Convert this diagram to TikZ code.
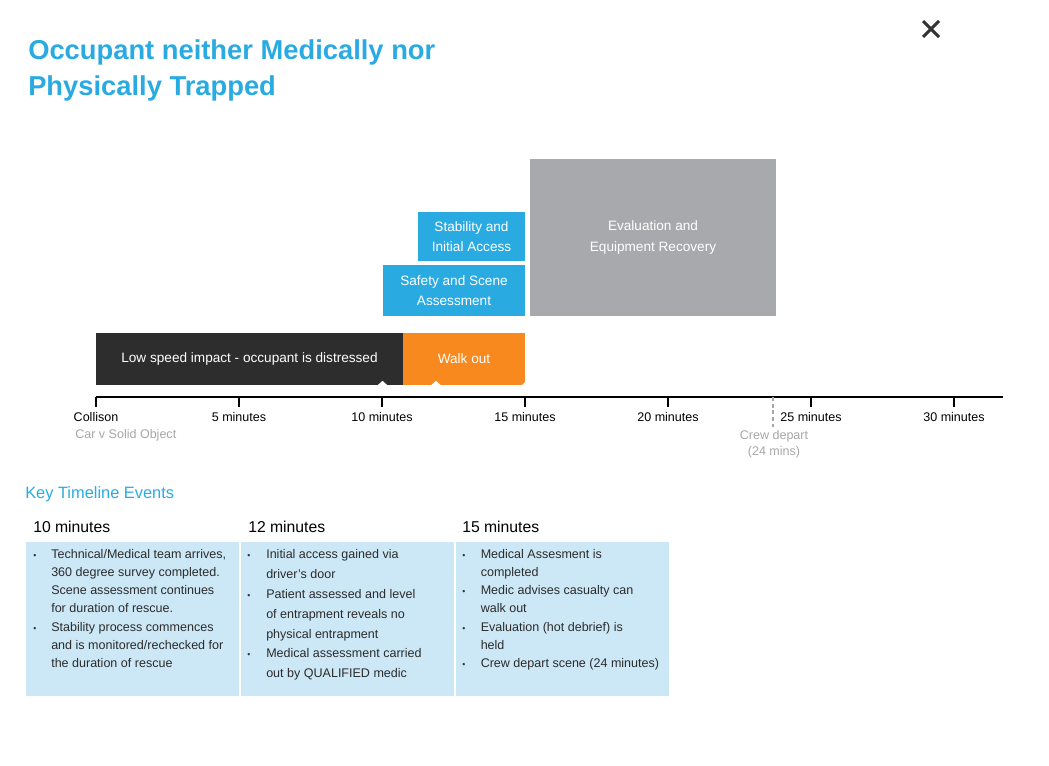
\documentclass[tikz,border=0pt]{standalone}
\usepackage{fontspec}
\setmainfont{Liberation Sans}
\usetikzlibrary{positioning}

\definecolor{titleblue}{HTML}{29ABE2}
\definecolor{phaseblue}{HTML}{29ABE2}
\definecolor{evalgrey}{HTML}{A7A9AC}
\definecolor{impactdark}{HTML}{2D2D2D}
\definecolor{walkorange}{HTML}{F7891F}
\definecolor{noteblue}{HTML}{CCE8F6}
\definecolor{softgrey}{HTML}{A6A6A6}
\definecolor{inkgrey}{HTML}{333333}

\begin{document}
\begin{tikzpicture}[
    x=0.75pt, y=-0.75pt,
    phase/.style={rectangle, inner sep=0pt, align=center, text=white, font=\fontsize{10.2}{15.5}\selectfont},
    tlabel/.style={anchor=base, inner sep=0pt, font=\fontsize{9.4}{12}\selectfont},
    notebox/.style={rectangle, fill=noteblue, inner sep=0pt, minimum width=159.75pt, minimum height=115.5pt},
    notehead/.style={anchor=base west, inner sep=0pt, font=\fontsize{11.8}{14}\selectfont},
    notetext/.style={anchor=north west, inner sep=0pt, align=left, text=inkgrey!85!black, font=\fontsize{9.4}{13.5}\selectfont},
    bul/.style={inner sep=0pt, text=inkgrey, font=\fontsize{6.5}{7}\selectfont}
]
\useasboundingbox (0,0) rectangle (1049,765);

% heading
\node[anchor=base west, inner sep=0pt, text=titleblue, font=\fontsize{20.5}{27}\selectfont\bfseries] (title1) at (28,59) {Occupant neither Medically nor};
\node[anchor=base west, inner sep=0pt, text=titleblue, font=\fontsize{20.5}{27}\selectfont\bfseries] (title2) at (28,95) {Physically Trapped};
\draw[line width=2.2pt, draw=inkgrey] (923,21) -- (939,37) (923,37) -- (939,21);

% phases
\node[phase, fill=evalgrey, minimum width=184.5pt, minimum height=117.75pt] (evalbox) at (653,237.5) {Evaluation and\\Equipment Recovery};
\node[phase, fill=phaseblue, minimum width=80.25pt, minimum height=36.75pt] (stabbox) at (471.5,236.5) {Stability and\\Initial Access};
\node[phase, fill=phaseblue, minimum width=106.5pt, minimum height=38.25pt] (safebox) at (454,290.5) {Safety and Scene\\Assessment};
\node[phase, fill=impactdark, minimum width=230.25pt, minimum height=39pt] (impact) at (249.5,359) {Low speed impact - occupant is distressed};
\node[phase, fill=walkorange, minimum width=91.5pt, minimum height=39pt] (walkout) at (464,359) {Walk out};
\fill[white] (377.5,385.3) -- (382.5,380.8) -- (387.5,385.3) -- cycle;
\fill[white] (431,385.3) -- (436,380.8) -- (441,385.3) -- cycle;
\fill[white] (walkout.south east) -- ++(-3.5,0) -- ++(3.5,-3.5) -- cycle;

% time axis
\coordinate (axisstart) at (96,397);
\coordinate (axisend) at (1003,397);
\draw[line width=1.1pt] (axisstart) -- (axisend);
\foreach \m/\txt in {0/Collison, 1/5 minutes, 2/10 minutes, 3/15 minutes, 4/20 minutes, 5/25 minutes, 6/30 minutes} {
    \draw[line width=0.9pt] (96+143*\m,397) -- (96+143*\m,407);
    \node[tlabel] (tick\m) at (96+143*\m,421.5) {\txt};
}
\node[tlabel, anchor=base west, text=softgrey] (cause) at (75,438.5) {Car v Solid Object};

\coordinate (depart) at (773,397);
\coordinate (departend) at (773,427);
\draw[softgrey, line width=0.8pt, dash pattern=on 3pt off 2pt] (depart) -- (departend);
\node[tlabel, text=softgrey] (departlbl) at (774,439.5) {Crew depart};
\node[tlabel, text=softgrey] (departmins) at (774,455.5) {(24 mins)};

% key events
\node[anchor=base west, inner sep=0pt, text=titleblue, font=\fontsize{12.3}{15}\selectfont] (keyhead) at (25,498) {Key Timeline Events};

\node[notebox] (note10) at (132.5,619) {};
\node[notebox] (note12) at (347.5,619) {};
\node[notebox] (note15) at (562,619) {};

\node[notehead] (head10) at (33,532.6) {10 minutes};
\node[notehead] (head12) at (248,532.6) {12 minutes};
\node[notehead] (head15) at (462,532.6) {15 minutes};

\node[bul] (bul10a) at (35,556.5) {\textbullet};
\node[notetext] (item10a) at (51,549.5) {Technical/Medical team arrives,\\360 degree survey completed.\\Scene assessment continues\\for duration of rescue.};
\node[bul] (bul10b) at (35,629.1) {\textbullet};
\node[notetext] (item10b) at (51,622.1) {Stability process commences\\and is monitored/rechecked for\\the duration of rescue};

\node[bul] (bul12a) at (249,556.5) {\textbullet};
\node[notetext, font=\fontsize{9.4}{14.85}\selectfont] (item12a) at (266,549.5) {Initial access gained via\\driver’s door};
\node[bul] (bul12b) at (249,596.1) {\textbullet};
\node[notetext, font=\fontsize{9.4}{14.85}\selectfont] (item12b) at (266,589.1) {Patient assessed and level\\of entrapment reveals no\\physical entrapment};
\node[bul] (bul12c) at (249,655.5) {\textbullet};
\node[notetext, font=\fontsize{9.4}{14.85}\selectfont] (item12c) at (266,648.5) {Medical assessment carried\\out by QUALIFIED medic};

\node[bul] (bul15a) at (464,556.5) {\textbullet};
\node[notetext] (item15a) at (480.5,549.5) {Medical Assesment is\\completed};
\node[bul] (bul15b) at (464,592.5) {\textbullet};
\node[notetext] (item15b) at (480.5,585.5) {Medic advises casualty can\\walk out};
\node[bul] (bul15c) at (464,629.1) {\textbullet};
\node[notetext] (item15c) at (480.5,622.1) {Evaluation (hot debrief) is\\held};
\node[bul] (bul15d) at (464,665.1) {\textbullet};
\node[notetext] (item15d) at (480.5,658.1) {Crew depart scene (24 minutes)};

\end{tikzpicture}
\end{document}
